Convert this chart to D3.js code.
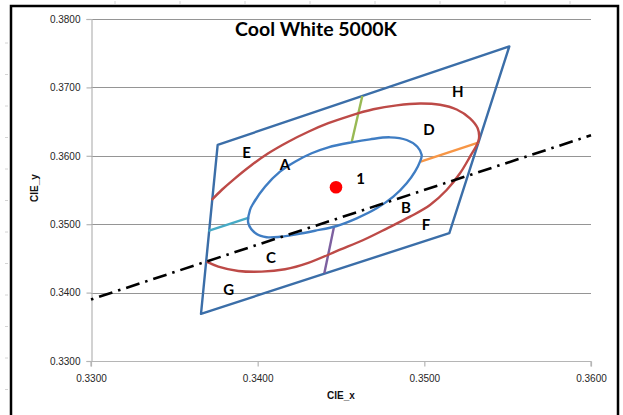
<!DOCTYPE html>
<html>
<head>
<meta charset="utf-8">
<script src="https://cdn.jsdelivr.net/npm/d3@7"></script>
<style>
  html, body { margin: 0; padding: 0; background: #fff; }
  svg { display: block; }
</style>
</head>
<body>
<svg id="chart" width="623" height="415"></svg>
<script>
// ---------- data ----------
const title = "Cool White 5000K";
const xTicks = [0.33, 0.34, 0.35, 0.36];
const yTicks = [0.33, 0.34, 0.35, 0.36, 0.37, 0.38];
const xLabel = "CIE_x";
const yLabel = "CIE_y";

// ANSI quadrangle corners (CIE x, y)
const quadX = [0.3376, 0.3551, 0.3515, 0.3366];
const quadY = [0.3616, 0.3760, 0.3487, 0.3369];

// nominal centre point
const centerX = 0.3447;
const centerY = 0.3554;

// black dash-dot reference line (end points)
const locusX = [0.3300, 0.3600];
const locusY = [0.3390, 0.3630];

// inner ellipse (blue), closed
const innerEllipse = [
  [0.33944,0.35013],[0.33954,0.35208],[0.33974,0.35306],[0.34044,0.35548],
  [0.34134,0.35768],[0.34224,0.35914],[0.34324,0.36037],[0.34424,0.36124],
  [0.34564,0.36197],[0.34674,0.36241],[0.34794,0.36270],[0.34894,0.36231],
  [0.34958,0.36133],[0.34984,0.36012],[0.34974,0.35914],[0.34944,0.35768],
  [0.34894,0.35598],[0.34814,0.35402],[0.34714,0.35232],[0.34594,0.35086],
  [0.34474,0.34974],[0.34344,0.34904],[0.34224,0.34848],[0.34134,0.34816],
  [0.34054,0.34810],[0.33994,0.34857]
];

// outer ellipse (red), open (cut by the quadrangle at the left)
const outerEllipse = [
  [0.33724,0.35354],[0.33784,0.35500],[0.33864,0.35671],[0.33964,0.35866],
  [0.34064,0.36037],[0.34184,0.36206],[0.34304,0.36352],[0.34424,0.36476],
  [0.34554,0.36585],[0.34694,0.36680],[0.34834,0.36738],[0.34974,0.36765],
  [0.35094,0.36746],[0.35194,0.36677],[0.35274,0.36548],[0.35320,0.36402],
  [0.35328,0.36256],[0.35314,0.36158],[0.35274,0.35987],[0.35214,0.35744],
  [0.35134,0.35500],[0.35034,0.35281],[0.34914,0.35110],[0.34774,0.34936],
  [0.34634,0.34769],[0.34494,0.34627],[0.34304,0.34435],
  [0.34164,0.34341],[0.34024,0.34306],[0.33884,0.34316],[0.33764,0.34379],
  [0.33694,0.34452]
];

// dividing segments: [x1, y1, x2, y2]
const segNames = ["top", "right", "left", "bottom"];
const segX1 = [0.34564, 0.34978, 0.33704, 0.34458];
const segY1 = [0.36197, 0.35914, 0.34901, 0.34963];
const segX2 = [0.34628, 0.35328, 0.33948, 0.34400];
const segY2 = [0.36874, 0.36197, 0.35095, 0.34282];

// region labels
const labelText = ["A", "B", "C", "D", "E", "F", "G", "H", "1"];
const labelX = [0.34164, 0.34890, 0.34080, 0.35028, 0.33934, 0.35010, 0.33826, 0.35200, 0.34618];
const labelY = [0.35880, 0.35247, 0.34525, 0.36387, 0.36060, 0.35003, 0.34048, 0.36947, 0.35671];

// ---------- styles ----------
const quadColor = "#3b6ea8";
const innerColor = "#3f7dc3";
const outerColor = "#bd4a47";
const segColors = ["#98b954", "#f79646", "#46aac5", "#7d60a0"];

// ---------- drawing ----------
const svg = d3.select("#chart");
const plot = { left: 91, right: 591, top: 19, bottom: 361 };

const x = d3.scaleLinear().domain([0.33, 0.36]).range([plot.left, plot.right]);
const y = d3.scaleLinear().domain([0.33, 0.38]).range([plot.bottom, plot.top]);

// faint ruler marks outside the frame
svg.append("g").selectAll("line").data(d3.range(43, 415, 31.5)).join("line")
  .attr("x1", 5).attr("x2", 8).attr("y1", d => d).attr("y2", d => d)
  .attr("stroke", "#d4d4d4").attr("stroke-width", 1);
svg.append("g").selectAll("line").data(d3.range(115, 610, 65)).join("line")
  .attr("x1", d => d).attr("x2", d => d).attr("y1", 1).attr("y2", 4)
  .attr("stroke", "#d4d4d4").attr("stroke-width", 1);

// outer frame
svg.append("path")
  .attr("d", "M11,420 L11,6 L618,6 L618,420")
  .attr("fill", "none").attr("stroke", "#000").attr("stroke-width", 2.5);

// gridlines
svg.append("g").selectAll("line").data(yTicks.slice(1)).join("line")
  .attr("x1", plot.left).attr("x2", plot.right)
  .attr("y1", d => Math.round(y(d)) + 0.5).attr("y2", d => Math.round(y(d)) + 0.5)
  .attr("stroke", "#959595").attr("stroke-width", 1);

// axes
const fmt = d3.format(".4f");
const yAxis = svg.append("g")
  .attr("transform", `translate(${plot.left + 0.5},0)`)
  .call(d3.axisLeft(y).tickValues(yTicks).tickFormat(fmt).tickSize(5).tickPadding(6));
const xAxis = svg.append("g")
  .attr("transform", `translate(0,${plot.bottom + 0.5})`)
  .call(d3.axisBottom(x).tickValues(xTicks).tickFormat(fmt).tickSize(5).tickPadding(8));
[xAxis, yAxis].forEach(g => {
  g.select(".domain").attr("stroke", "#b5b5b5").attr("stroke-width", 1.2);
  g.selectAll(".tick line").attr("stroke", "#b5b5b5").attr("stroke-width", 1.2);
  g.selectAll(".tick text")
    .attr("fill", "#262626")
    .style("font-family", "'Liberation Sans', Arial, sans-serif")
    .style("font-size", "10px");
});
xAxis.select(".domain").attr("d", `M${plot.left},5V0H${plot.right}V5`);

// axis titles
svg.append("text")
  .attr("x", (plot.left + plot.right) / 2).attr("y", 399)
  .attr("text-anchor", "middle")
  .style("font-family", "'Liberation Sans', Arial, sans-serif")
  .style("font-size", "10px").style("font-weight", "bold")
  .attr("fill", "#111").text(xLabel);
svg.append("text")
  .attr("transform", "translate(38,188) rotate(-90)")
  .attr("text-anchor", "middle")
  .style("font-family", "'Liberation Sans', Arial, sans-serif")
  .style("font-size", "10px").style("font-weight", "bold")
  .attr("fill", "#111").text(yLabel);

// title
svg.append("text")
  .attr("x", 316).attr("y", 36)
  .attr("text-anchor", "middle")
  .style("font-family", "Lato, 'Open Sans', sans-serif")
  .style("font-size", "19.5px").style("font-weight", "bold")
  .attr("fill", "#000").text(title);

// quadrangle
const quadPts = quadX.map((d, i) => [x(d), y(quadY[i])]);
svg.append("path")
  .attr("d", d3.line().curve(d3.curveLinearClosed)(quadPts))
  .attr("fill", "none").attr("stroke", quadColor).attr("stroke-width", 2.4)
  .attr("stroke-linejoin", "round");

// dividing segments
svg.append("g").selectAll("line").data(segNames).join("line")
  .attr("x1", (d, i) => x(segX1[i])).attr("y1", (d, i) => y(segY1[i]))
  .attr("x2", (d, i) => x(segX2[i])).attr("y2", (d, i) => y(segY2[i]))
  .attr("stroke", (d, i) => segColors[i]).attr("stroke-width", 2.4);

// ellipses
const line = d3.line().x(d => x(d[0])).y(d => y(d[1]));
svg.append("path")
  .attr("d", line.curve(d3.curveCatmullRom.alpha(0.5))(outerEllipse))
  .attr("fill", "none").attr("stroke", outerColor).attr("stroke-width", 2.4);
svg.append("path")
  .attr("d", line.curve(d3.curveCatmullRomClosed.alpha(0.5))(innerEllipse))
  .attr("fill", "none").attr("stroke", innerColor).attr("stroke-width", 2.4);

// dash-dot reference line
svg.append("path")
  .attr("d", d3.line()(locusX.map((d, i) => [x(d), y(locusY[i])])))
  .attr("fill", "none").attr("stroke", "#000").attr("stroke-width", 2.6)
  .attr("stroke-dasharray", "2.5,6,14,6");

// centre point
svg.append("circle")
  .attr("cx", x(centerX)).attr("cy", y(centerY)).attr("r", 6.3)
  .attr("fill", "#ff0000");

// region labels
svg.append("g").selectAll("text").data(labelText).join("text")
  .attr("x", (d, i) => x(labelX[i])).attr("y", (d, i) => y(labelY[i]))
  .attr("text-anchor", "middle").attr("dominant-baseline", "central")
  .style("font-family", "Lato, 'Open Sans', sans-serif")
  .style("font-size", "15px").style("font-weight", "bold")
  .attr("fill", "#000").text(d => d);
</script>
</body>
</html>
